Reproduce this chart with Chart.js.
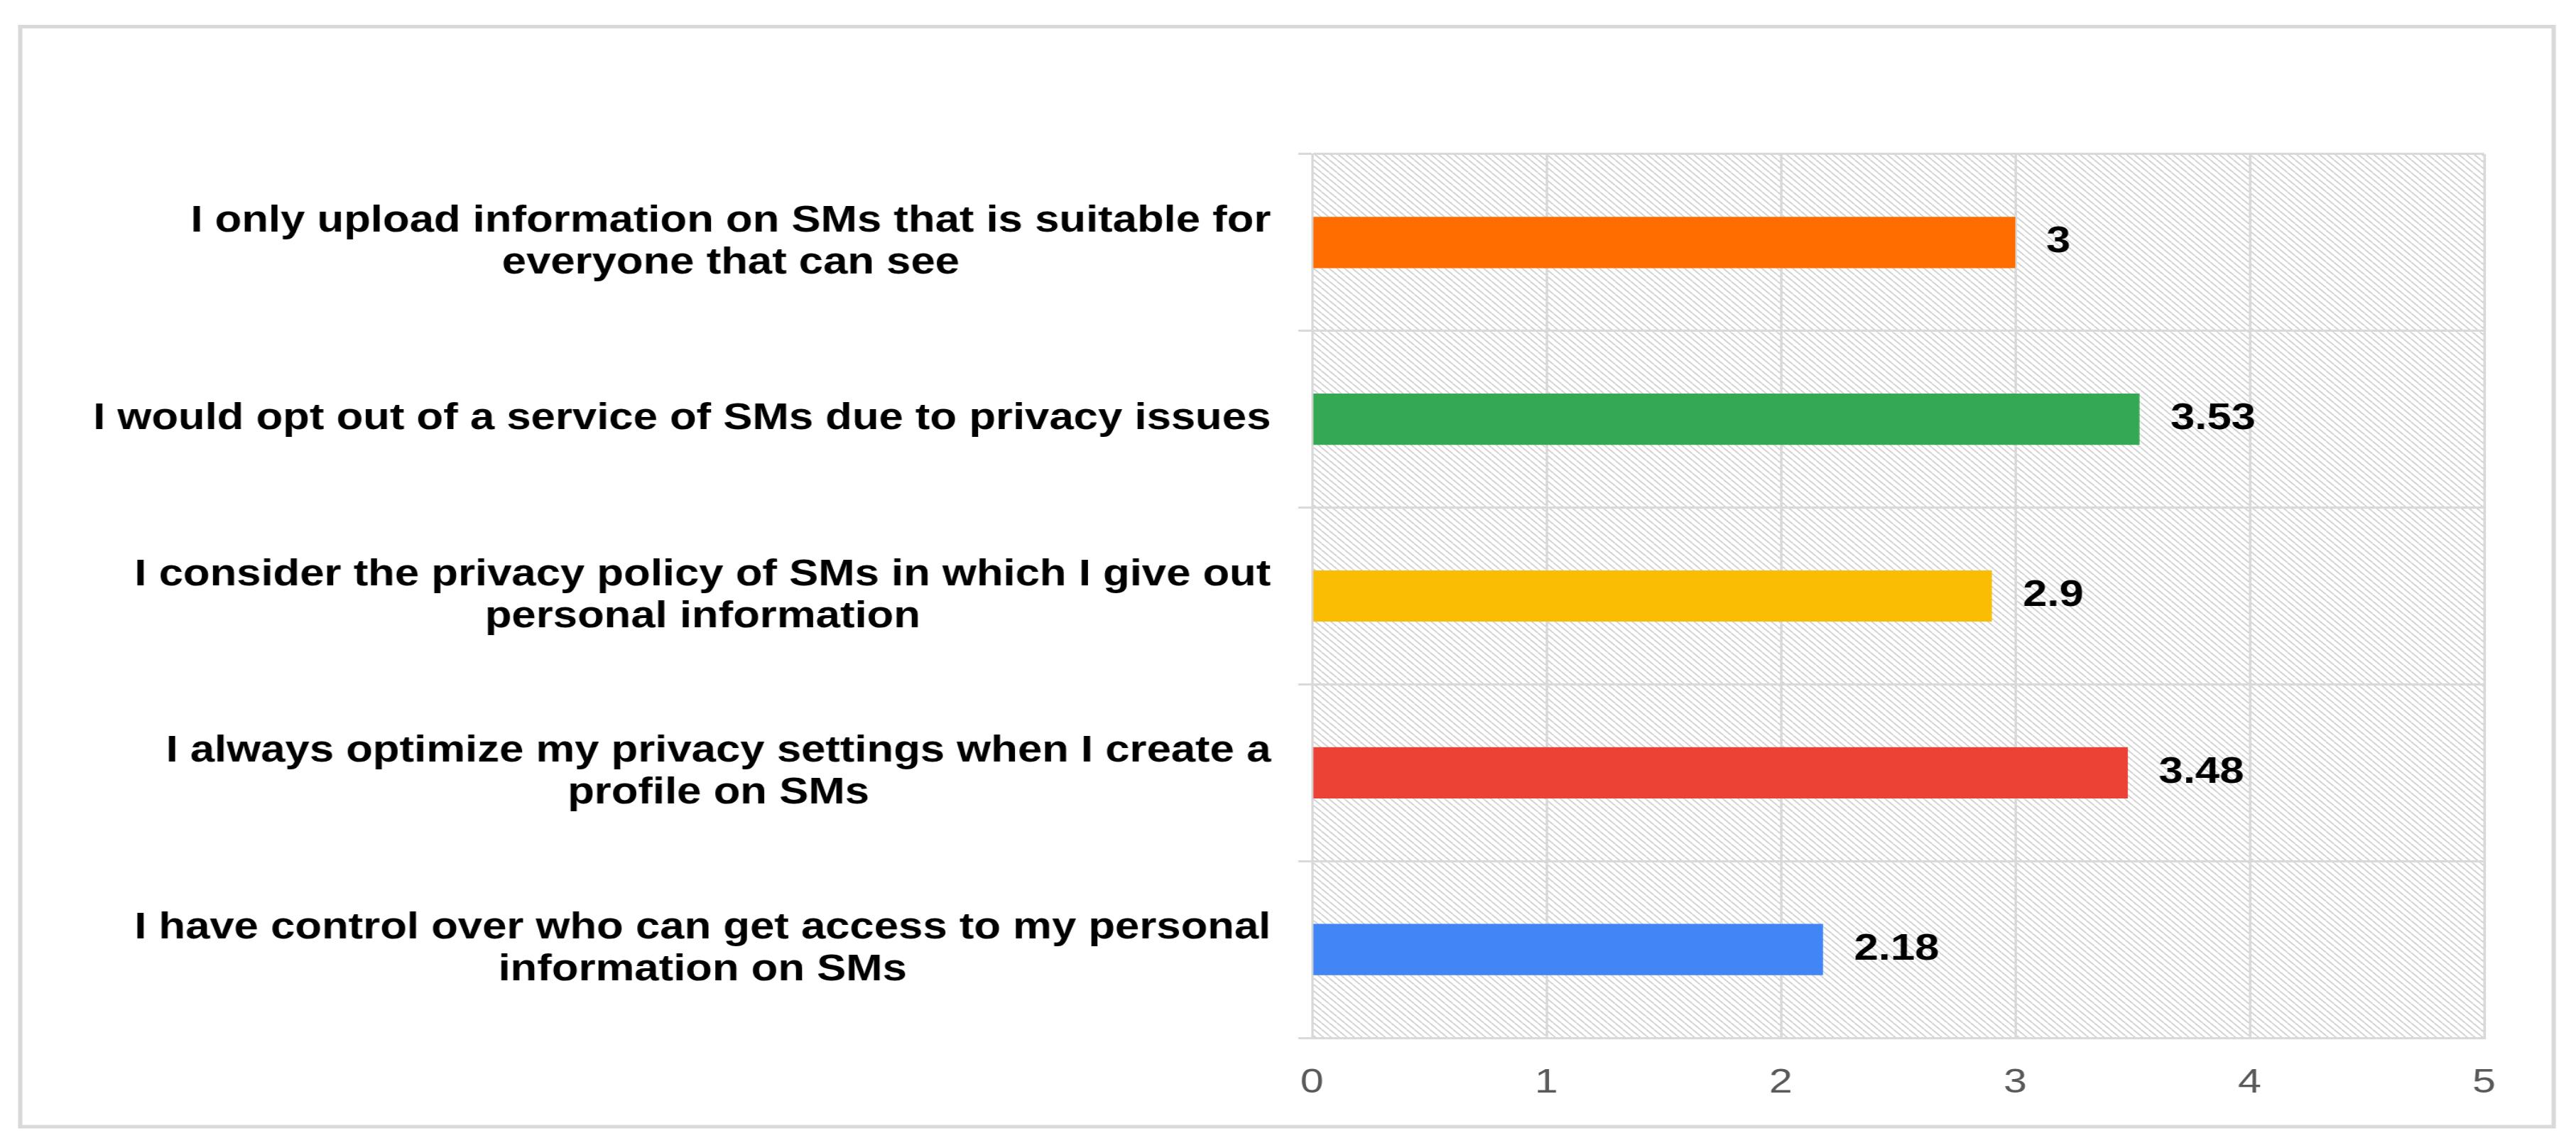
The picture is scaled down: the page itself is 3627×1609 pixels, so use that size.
<!DOCTYPE html>
<html>
<head>
<meta charset="utf-8">
<script src="https://cdn.jsdelivr.net/npm/chart.js@4.4.1/dist/chart.umd.min.js"></script>
<style>
  html, body { margin: 0; padding: 0; background: #fff; overflow: hidden; }
  /* the reference is stretched sideways, so the canvas is too */
  #wrap { width: 3000px; height: 1609px; transform: scaleX(1.209); transform-origin: 0 0; }
</style>
</head>
<body>
<div id="wrap"><canvas id="chart" width="3000" height="1609"></canvas></div>
<script>
const statements = [
  ['I only upload information on SMs that is suitable for', 'everyone that can see'],
  ['I would opt out of a service of SMs due to privacy issues'],
  ['I consider the privacy policy of SMs in which I give out', 'personal information'],
  ['I always optimize my privacy settings when I create a', 'profile on SMs'],
  ['I have control over who can get access to my personal', 'information on SMs']
];
const means = [3, 3.53, 2.9, 3.48, 2.18];
const barColors = ['#ff6d01', '#34a853', '#fbbc04', '#ea4335', '#4285f4'];
const xTicks = [0, 1, 2, 3, 4, 5];

const gridColor = '#d9d9d9';
const boldFont = 'bold 51px "Liberation Sans", Arial, sans-serif';

function hatch(ctx) {
  const p = 9;
  const tile = document.createElement('canvas');
  tile.width = p; tile.height = p;
  const t = tile.getContext('2d');
  t.strokeStyle = '#cfcfcf';
  t.lineWidth = 1.6;
  t.beginPath();
  for (const o of [-p, 0, p]) { t.moveTo(o, 0); t.lineTo(o + p, p); }
  t.stroke();
  return ctx.createPattern(tile, 'repeat');
}

const decor = {
  id: 'decor',
  beforeDraw(chart) {
    const { ctx, chartArea: a } = chart;
    ctx.save();
    ctx.fillStyle = '#fff';
    ctx.fillRect(0, 0, chart.width, chart.height);
    ctx.strokeStyle = gridColor;
    ctx.lineWidth = 5;
    ctx.strokeRect(23.5, 37.5, 2950.5, 1548.5);
    ctx.fillStyle = hatch(ctx);
    ctx.fillRect(a.left, a.top, a.right - a.left, a.bottom - a.top);
    ctx.restore();
  },
  afterDatasetsDraw(chart) {
    const { ctx } = chart;
    ctx.save();
    ctx.font = boldFont;
    ctx.fillStyle = '#000';
    ctx.textAlign = 'left';
    ctx.textBaseline = 'middle';
    chart.getDatasetMeta(0).data.forEach((bar, i) => {
      ctx.fillText(String(means[i]), bar.x + 36, bar.y);
    });
    ctx.restore();
  },
  afterDraw(chart) {
    // category labels: block right-aligned, lines centred inside the block
    const { ctx } = chart;
    const y = chart.scales.y;
    ctx.save();
    ctx.font = boldFont;
    ctx.fillStyle = '#000';
    ctx.textAlign = 'center';
    ctx.textBaseline = 'middle';
    statements.forEach((lines, i) => {
      const py = y.getPixelForValue(i);
      const w = Math.max(...lines.map(l => ctx.measureText(l).width));
      const cx = y.right - 48 - w / 2;
      lines.forEach((l, k) => ctx.fillText(l, cx, py + (k - (lines.length - 1) / 2) * 59));
    });
    ctx.restore();
  }
};

new Chart(document.getElementById('chart'), {
  type: 'bar',
  data: {
    labels: statements.map(s => s.join(' ')),
    datasets: [{ data: means, backgroundColor: barColors, barPercentage: 0.29, categoryPercentage: 1 }]
  },
  options: {
    indexAxis: 'y',
    responsive: false,
    animation: false,
    devicePixelRatio: 1,
    layout: { padding: { top: 217, right: 107, left: 0, bottom: 0 } },
    plugins: { legend: { display: false }, tooltip: { enabled: false } },
    scales: {
      x: {
        min: xTicks[0],
        max: xTicks[xTicks.length - 1],
        ticks: { stepSize: 1, padding: 34, color: '#595959', font: { family: '"Liberation Sans", Arial, sans-serif', size: 49 } },
        grid: { color: gridColor, lineWidth: 3, drawTicks: false },
        border: { color: gridColor, width: 3 },
        afterFit: s => { s.height = 148; }
      },
      y: {
        ticks: { display: false },
        grid: { color: gridColor, lineWidth: 3, tickLength: 16, offset: true },
        border: { color: gridColor, width: 3 },
        afterFit: s => { s.width = 1528; }
      }
    }
  },
  plugins: [decor]
});
</script>
</body>
</html>
